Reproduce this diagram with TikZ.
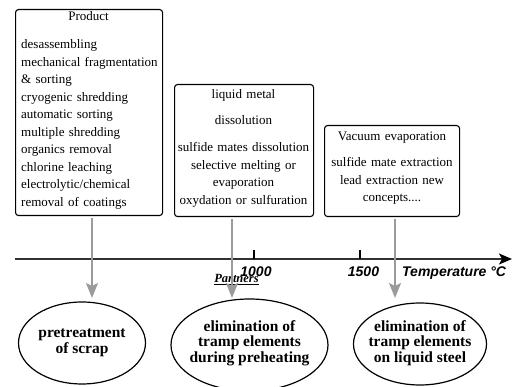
\documentclass[tikz,border=0pt]{standalone}
\usepackage{fontspec}
\setmainfont{Liberation Serif}
\newfontfamily\axisfont{Liberation Sans}
\usetikzlibrary{arrows.meta,calc,shapes.geometric}
\definecolor{feedgray}{RGB}{155,155,155}
\definecolor{axisgray}{RGB}{50,50,50}
\begin{document}
\begin{tikzpicture}[x=1pt,y=-1pt,
  box/.style={draw=black, line width=1.1pt, rounded corners=3pt, inner sep=0pt, anchor=north west},
  txt/.style={inner sep=0pt, font=\fontsize{13}{17.5}\selectfont},
  oval/.style={draw=black, ellipse, line width=1.2pt, inner sep=0pt},
  ovaltxt/.style={inner sep=0pt, align=center, font=\fontsize{15.5}{15.5}\selectfont\bfseries},
  feed/.style={draw=feedgray, line width=1.8pt, shorten <=2pt, -{Stealth[length=15pt,width=12pt,inset=3pt]}},
  axislab/.style={inner sep=0pt, anchor=base, font=\axisfont\fontsize{14}{16}\selectfont\bfseries\itshape}
]
\useasboundingbox (0,0) rectangle (523,387);

% boxes
\node[box, minimum width=147pt, minimum height=206pt] (b1) at (15,9) {};
\node[box, minimum width=139pt, minimum height=132pt] (b2) at (174,84) {};
\node[box, minimum width=135pt, minimum height=91pt] (b3) at (324,125) {};

% box texts
\node[txt, anchor=base] (t1h) at (88.5,21) {Product};
\node[txt, anchor=base west, text width=140pt, align=left] (t1) at (21,49) {desassembling\\mechanical fragmentation\\\& sorting\\cryogenic shredding\\automatic sorting\\multiple shredding\\organics removal\\chlorine leaching\\electrolytic/chemical\\removal of coatings};
\node[txt, anchor=base, text width=139pt, align=center] (t2) at (243.5,99) {liquid metal\\[8.5pt]dissolution\\[9.5pt]sulfide mates dissolution\\selective melting or\\evaporation\\oxydation or sulfuration};
\node[txt, anchor=base, text width=135pt, align=center] (t3) at (392,141) {Vacuum evaporation\\[8.5pt]sulfide mate extraction\\lead extraction new\\concepts....};

% axis
\coordinate (ax0) at (15,259);
\coordinate (ax1) at (512,259);
\draw[axisgray, line width=1.8pt, -{Stealth[length=13pt,width=11pt,inset=3pt,black]}] (ax0) -- (ax1);
\coordinate (k1) at (254,250);
\coordinate (k2) at (360,250);
\draw[black, line width=1.1pt] (k1) -- (k1 |- ax0);
\draw[black, line width=1.1pt] (k2) -- (k2 |- ax0);
\node[axislab] (l1000) at (256,277) {1000};
\node[axislab] (l1500) at (363.5,277) {1500};
\node[axislab, anchor=base west] (ltemp) at (402,277) {Temperature °C};
\node[inner sep=0pt, anchor=base, font=\fontsize{12.5}{14}\selectfont\bfseries\itshape] (part) at (236.5,283) {\underline{Partners}};

% ellipses
\node[oval, minimum width=127pt, minimum height=82pt] (e1) at (82,343) {};
\node[oval, minimum width=157pt, minimum height=92pt] (e2) at (249.5,345) {};
\node[oval, minimum width=133pt, minimum height=82pt] (e3) at (420,344) {};
\node[ovaltxt] (e1t) at (e1.center) {pretreatment\\of scrap};
\node[ovaltxt] (e2t) at ($(e2.center)+(0,-2)$) {elimination of\\tramp elements\\during preheating};
\node[ovaltxt] (e3t) at ($(e3.center)+(0,-1)$) {elimination of\\tramp elements\\on liquid steel};

% feed arrows
\coordinate (p1) at (92,298);
\coordinate (p2) at (232,298);
\coordinate (p3) at (395,298);
\draw[feed] (b1.south -| p1) -- (p1);
\draw[feed] (b2.south -| p2) -- (p2);
\draw[feed] (b3.south -| p3) -- (p3);
\end{tikzpicture}
\end{document}
